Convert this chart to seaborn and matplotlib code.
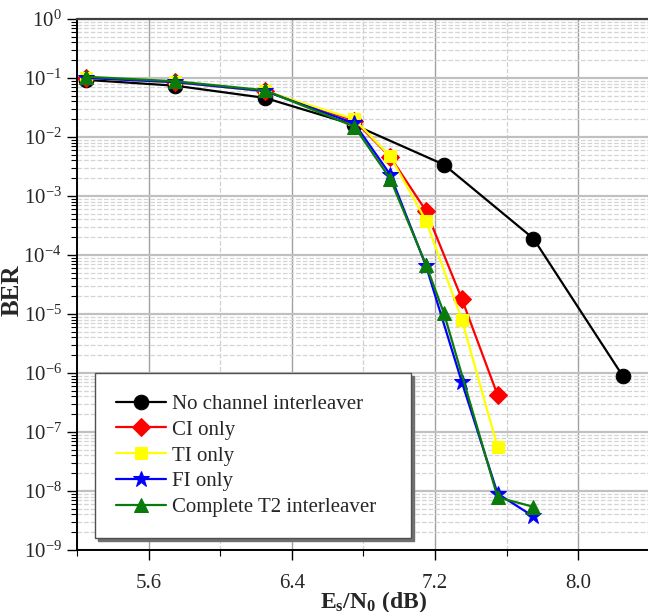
import matplotlib
matplotlib.use("Agg")
import matplotlib.pyplot as plt
import numpy as np
import pandas as pd
import seaborn as sns
from matplotlib.ticker import MultipleLocator, LogLocator

# BER curves
no_ci_x = [5.25, 5.75, 6.25, 6.75, 7.25, 7.75, 8.25]
no_ci_y = [0.093, 0.074, 0.046, 0.016, 3.4e-3, 1.9e-4, 8.8e-7]

ci_x = [5.25, 5.75, 6.25, 6.75, 6.95, 7.15, 7.35, 7.55]
ci_y = [0.10, 0.085, 0.060, 0.019, 4.6e-3, 5.6e-4, 1.8e-5, 4.2e-7]

ti_x = [5.25, 5.75, 6.25, 6.75, 6.95, 7.15, 7.35, 7.55]
ti_y = [0.10, 0.085, 0.060, 0.020, 4.7e-3, 3.8e-4, 8.0e-6, 5.5e-8]

fi_x = [5.25, 5.75, 6.25, 6.75, 6.95, 7.15, 7.35, 7.55, 7.75]
fi_y = [0.10, 0.085, 0.060, 0.017, 2.3e-3, 6.5e-5, 7.0e-7, 9.0e-9, 3.7e-9]

t2_x = [5.25, 5.75, 6.25, 6.75, 6.95, 7.15, 7.25, 7.55, 7.75]
t2_y = [0.105, 0.088, 0.062, 0.015, 1.95e-3, 6.8e-5, 1.03e-5, 7.8e-9, 5.4e-9]

labels = ["No channel interleaver", "CI only", "TI only", "FI only",
          "Complete T2 interleaver"]

sns.set_style("white")
plt.rcParams["font.family"] = ["Liberation Serif", "DejaVu Serif"]
plt.rcParams["mathtext.fontset"] = "custom"
plt.rcParams["mathtext.rm"] = "Liberation Serif"
plt.rcParams["mathtext.it"] = "Liberation Serif:italic"
plt.rcParams["mathtext.bf"] = "Liberation Serif:bold"
plt.rcParams["axes.unicode_minus"] = False

fig = plt.figure(figsize=(6.48, 6.12), dpi=100)
ax = fig.add_axes([77 / 648, 1 - 550 / 612, 1 - 77 / 648, 531 / 612])

series = [
    (no_ci_x, no_ci_y, "black", "o", 10.5),
    (ci_x, ci_y, "red", "D", 9),
    (ti_x, ti_y, "yellow", "s", 8),
    (fi_x, fi_y, "blue", "*", 12),
    (t2_x, t2_y, "#0a7a0a", "^", 10),
]

for (xs, ys, col, mk, ms), lab in zip(series, labels):
    df = pd.DataFrame({"x": xs, "y": ys})
    sns.lineplot(data=df, x="x", y="y", ax=ax, color=col, marker=mk,
                 markersize=ms, mec=col, mfc=col, linewidth=1.6,
                 estimator=None, sort=False, label=lab)

ax.set_yscale("log")
ax.set_ylim(1e-9, 1)
ax.set_xlim(5.2, 8.39)

ax.xaxis.set_major_locator(MultipleLocator(0.8))
ax.xaxis.set_minor_locator(MultipleLocator(0.4))
ax.xaxis.set_major_formatter(plt.FuncFormatter(lambda v, p: f"{v:.1f}"))
ax.yaxis.set_major_locator(LogLocator(base=10, numticks=12))
ax.yaxis.set_minor_locator(LogLocator(base=10, subs=np.arange(2, 10), numticks=12))

ax.grid(True, which="major", axis="x", color="#a0a0a0", linewidth=1.0)
ax.grid(True, which="minor", axis="x", color="#d0d0d0", linewidth=0.9, linestyle="--")
ax.grid(True, which="major", axis="y", color="#c0c0c0", linewidth=1.6)
ax.grid(True, which="minor", axis="y", color="#d4d4d4", linewidth=0.9, linestyle="--")
ax.set_axisbelow(True)

ax.tick_params(axis="both", which="major", direction="out", length=7,
               width=1.0, color="black", labelsize=15, bottom=True, left=True)
ax.tick_params(axis="both", which="minor", direction="out", length=4,
               width=0.8, color="black", bottom=True, left=True)
ax.tick_params(axis="x", which="major", pad=10)
ax.tick_params(axis="y", which="major", pad=4)

for side in ["left", "bottom"]:
    ax.spines[side].set_color("black")
    ax.spines[side].set_linewidth(1.4)
ax.spines["top"].set_color("#404040")
ax.spines["top"].set_linewidth(1.6)
ax.spines["right"].set_visible(False)

ax.set_xlabel(r"$\mathbf{E_s/N_0\ (dB)}$", fontsize=17)
ax.xaxis.set_label_coords(0.52, -0.073)
ax.set_ylabel("BER", fontsize=18, fontweight="bold")
ax.yaxis.set_label_coords(-0.094, 0.49)

leg = ax.legend(loc="lower left",
                bbox_to_anchor=(18 / 571, 12 / 531, 316 / 571, 159 / 531),
                mode="expand", fontsize=15, frameon=True, fancybox=False,
                edgecolor="#505050", framealpha=1, handlelength=2.4,
                handletextpad=0.3, labelspacing=0.3, borderpad=1.0,
                borderaxespad=0,
                shadow={"color": "#707070", "alpha": 1})
leg.get_frame().set_linewidth(1.0)

fig.savefig("out.png", dpi=100)
